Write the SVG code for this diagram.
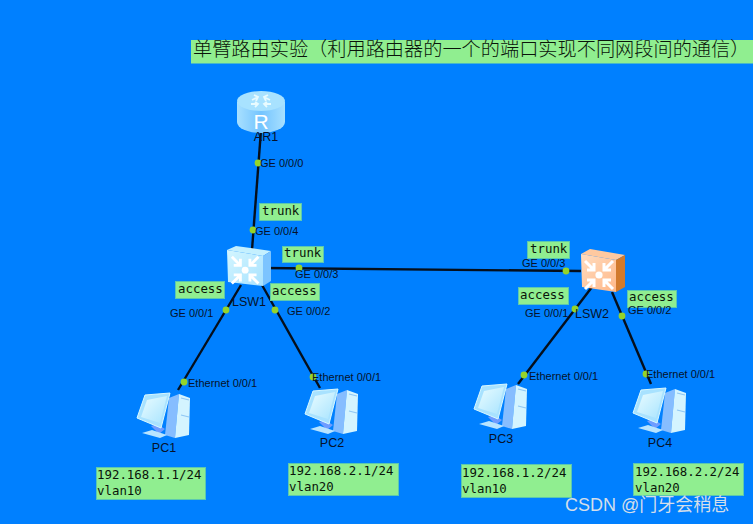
<svg xmlns="http://www.w3.org/2000/svg" width="753" height="524" viewBox="0 0 753 524">
<style>
.lb{fill:#90ee90;stroke:#5cc8b0;stroke-width:1}
.m{font-family:"DejaVu Sans Mono","Liberation Mono",monospace;font-size:12.4px;fill:#0a140a}
.p{font-family:"Liberation Sans",Arial,sans-serif;font-size:11px;fill:#06122a}
.n{font-family:"Liberation Sans",Arial,sans-serif;font-size:12.5px;fill:#06122a;text-anchor:middle}
.c{stroke:#050f1c;stroke-width:2.4;fill:none}
.d{fill:#94d42a}
</style>
<defs>
<linearGradient id="gf" x1="0" y1="0" x2="1" y2="1"><stop offset="0" stop-color="#d4f6ff"/><stop offset="1" stop-color="#a8e2ff"/></linearGradient>
<linearGradient id="gr" x1="0" y1="0" x2="1" y2="0"><stop offset="0" stop-color="#a8e0ff"/><stop offset=".5" stop-color="#74c4ff"/><stop offset="1" stop-color="#a8e0ff"/></linearGradient>
<linearGradient id="go" x1="0" y1="0" x2="1" y2="1"><stop offset="0" stop-color="#ffdcc0"/><stop offset="1" stop-color="#ffb888"/></linearGradient>
<linearGradient id="gs" x1="0" y1="0" x2="1" y2="1"><stop offset="0" stop-color="#eafcff"/><stop offset="1" stop-color="#a8e4ff"/></linearGradient>
<g id="arrows" fill="none" stroke="#fff" stroke-width="3">
<path d="M3 3L12 12M12 5V12H5M31 3L22 12M22 5V12H29M3 31L12 22M12 29V22H5M31 31L22 22M22 29V22H29"/>
<circle cx="17" cy="17" r="3.6" fill="#fff" stroke="none"/>
</g>
<g id="pc">
<path d="M32 10L42 6L38 50L28 47Z" fill="#86bdff"/>
<path d="M42 6L53 10L52 47L38 50Z" fill="#d4f4ff"/>
<path d="M44 10L52 12M44 27L52 29" stroke="#8fc8f4" stroke-width="1.2" fill="none"/>
<path d="M14 38L20 36L28 41L22 46Z" fill="#6f9cff"/>
<path d="M5 45L15 42L30 47L23 50Z" fill="#b8e4ff"/>
<path d="M8 7L33 5L24 40L0 30Z" fill="#a8e2ff" stroke="#d8f8ff" stroke-width="1"/>
<path d="M10 12L30 8L23 35L4 29Z" fill="url(#gs)"/>
</g>
</defs>
<rect width="753" height="524" fill="#0080ff"/>
<g id="connectors">
<path class="c" d="M261 130L252 250"/>
<path class="c" d="M263 268L581 271"/>
<path class="c" d="M241 285L178 390"/>
<path class="c" d="M262 285L320 388"/>
<path class="c" d="M592 287L518 384"/>
<path class="c" d="M612 292L651 384"/>
<circle class="d" cx="258" cy="163" r="3.400"/>
<circle class="d" cx="253" cy="230" r="3.400"/>
<circle class="d" cx="299" cy="268" r="3.400"/>
<circle class="d" cx="566" cy="271" r="3.400"/>
<circle class="d" cx="226" cy="310" r="3.400"/>
<circle class="d" cx="275" cy="310" r="3.400"/>
<circle class="d" cx="184" cy="382" r="3.400"/>
<circle class="d" cx="313" cy="377" r="3.400"/>
<circle class="d" cx="575" cy="309" r="3.400"/>
<circle class="d" cx="622" cy="316" r="3.400"/>
<circle class="d" cx="524" cy="375" r="3.400"/>
<circle class="d" cx="646" cy="374" r="3.400"/>
</g>
<g id="title">
<rect x="191" y="40" width="562" height="23.500" fill="#90ee90"/>
<text x="193" y="56" font-family="'Noto Sans CJK SC',sans-serif" font-size="19.2" font-weight="300" fill="#0a140a">单臂路由实验（利用路由器的一个的端口实现不同网段间的通信）</text>
</g>
<g id="AR1">
<path d="M237 102V122A24 11 0 0 0 285 122V102Z" fill="url(#gr)"/>
<ellipse cx="261" cy="101" rx="24" ry="10" fill="#a8e2ff"/>
<g stroke="#e8fbff" stroke-width="1.800" fill="none">
<path d="M252 100L258 97M254 95L258 97L256 101"/>
<path d="M270 100L264 97M268 95L264 97L266 101"/>
<path d="M251 104L258 104M255 107L258 104L255 102"/>
<path d="M271 104L264 104M267 107L264 104L267 102"/>
</g>
<text x="261" y="129" font-family="'Liberation Sans',sans-serif" font-size="21" fill="#fff" text-anchor="middle">R</text>
<text class="n" x="266" y="141">AR1</text>
</g>
<g id="LSW1">
<path d="M227 250L236 246L271 251L263 256Z" fill="#c4f0ff"/>
<path d="M263 256L271 251V281L263 286Z" fill="#7cc4ff"/>
<path d="M227 250L263 256V286L228 282Z" fill="url(#gf)"/>
<use href="#arrows" transform="translate(229 254) scale(.95)"/>
<text class="n" x="249" y="306">LSW1</text>
</g>
<g id="LSW2">
<path d="M581 254L590 249L625 255L616 260Z" fill="#ffc9a0"/>
<path d="M616 260L625 255V287L616 292Z" fill="#d27a2c"/>
<path d="M581 254L616 260V292L582 287Z" fill="url(#go)"/>
<use href="#arrows" transform="translate(582 258) scale(1)"/>
<text class="n" x="592" y="318">LSW2</text>
</g>
<g id="PC1"><use href="#pc" x="137" y="388"/><text class="n" x="164" y="452">PC1</text></g>
<g id="PC2"><use href="#pc" x="305" y="384"/><text class="n" x="332" y="447">PC2</text></g>
<g id="PC3"><use href="#pc" x="474" y="379"/><text class="n" x="501" y="443">PC3</text></g>
<g id="PC4"><use href="#pc" x="633" y="383"/><text class="n" x="660" y="447">PC4</text></g>
<g id="notes">
<rect class="lb" x="259.500" y="203.500" width="42" height="17"/><text class="m" x="262" y="215">trunk</text>
<rect class="lb" x="282.500" y="246.500" width="41" height="16"/><text class="m" x="284" y="257">trunk</text>
<rect class="lb" x="527.500" y="241.500" width="42" height="17"/><text class="m" x="530" y="253">trunk</text>
<rect class="lb" x="175.500" y="281.500" width="49" height="17"/><text class="m" x="178" y="293">access</text>
<rect class="lb" x="270.500" y="283.500" width="49" height="17"/><text class="m" x="272" y="295">access</text>
<rect class="lb" x="518.500" y="287.500" width="50" height="17"/><text class="m" x="520" y="299">access</text>
<rect class="lb" x="627.500" y="290.500" width="49" height="17"/><text class="m" x="629" y="301">access</text>
<rect class="lb" x="96.500" y="467.500" width="109" height="32"/><text class="m" x="97" y="479">192.168.1.1/24</text><text class="m" x="97" y="495">vlan10</text>
<rect class="lb" x="288.500" y="463.500" width="110" height="32"/><text class="m" x="289" y="475">192.168.2.1/24</text><text class="m" x="289" y="491">vlan20</text>
<rect class="lb" x="461.500" y="464.500" width="110" height="33"/><text class="m" x="462" y="477">192.168.1.2/24</text><text class="m" x="462" y="493">vlan10</text>
<rect class="lb" x="633.500" y="463.500" width="110" height="32"/><text class="m" x="635" y="476">192.168.2.2/24</text><text class="m" x="635" y="492">vlan20</text>
</g>
<g id="port-labels">
<text class="p" x="260" y="167">GE 0/0/0</text>
<text class="p" x="255" y="235">GE 0/0/4</text>
<text class="p" x="295" y="278">GE 0/0/3</text>
<text class="p" x="170" y="317">GE 0/0/1</text>
<text class="p" x="287" y="315">GE 0/0/2</text>
<text class="p" x="522" y="267">GE 0/0/3</text>
<text class="p" x="525" y="317">GE 0/0/1</text>
<text class="p" x="628" y="314">GE 0/0/2</text>
<text class="p" x="188" y="387">Ethernet 0/0/1</text>
<text class="p" x="312" y="381">Ethernet 0/0/1</text>
<text class="p" x="529" y="380">Ethernet 0/0/1</text>
<text class="p" x="646" y="378">Ethernet 0/0/1</text>
</g>
<text x="565" y="511" font-family="'Liberation Sans','Noto Sans CJK SC',sans-serif" font-size="18" fill="#d4deea">CSDN @门牙会稍息</text>
</svg>
